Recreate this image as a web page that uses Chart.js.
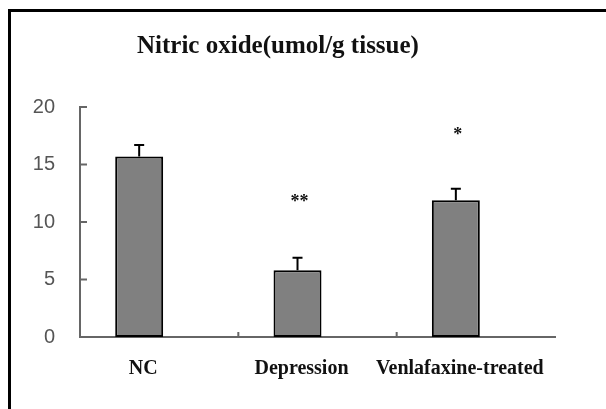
<!DOCTYPE html>
<html lang="en">
<head>
    <meta charset="UTF-8">
    <title>Nitric oxide</title>
    <script src="https://cdn.jsdelivr.net/npm/chart.js"></script>
    <style>
        body {
            margin: 0;
            background-color: #fff;
        }

        #wrap {
            position: relative;
            width: 606px;
            height: 409px;
            overflow: hidden;
        }

        #frame {
            position: absolute;
            left: 8px;
            top: 9px;
            width: 620px;
            height: 420px;
            border-left: 3px solid #000;
            border-top: 3px solid #000;
            pointer-events: none;
        }
    </style>
</head>
<body>

    <div id="wrap">
        <canvas id="myChart" width="606" height="409"></canvas>
        <div id="frame"></div>
    </div>

    <script>
        const titleText = 'Nitric oxide(umol/g tissue)';
        const groups = ['NC', 'Depression', 'Venlafaxine-treated'];
        const noValues = [15.7, 5.8, 11.9];
        const noErrors = [1.0, 1.1, 1.0];
        const marks = ['', '**', '*'];
        const markLevels = [null, 12.0, 17.8];
        const yTicks = [0, 5, 10, 15, 20];

        // errors, stars, inner ticks and title
        const extras = {
            id: 'extras',
            afterDatasetsDraw(chart) {
                const ctx = chart.ctx;
                const x = chart.scales.x;
                const y = chart.scales.y;
                const bars = chart.getDatasetMeta(0).data;

                ctx.save();
                ctx.strokeStyle = '#000';
                ctx.lineWidth = 2;
                bars.forEach((bar, i) => {
                    const top = y.getPixelForValue(noValues[i] + noErrors[i]);
                    ctx.beginPath();
                    ctx.moveTo(bar.x, bar.y);
                    ctx.lineTo(bar.x, top);
                    ctx.moveTo(bar.x - 5, top);
                    ctx.lineTo(bar.x + 5, top);
                    ctx.stroke();

                    if (marks[i]) {
                        ctx.fillStyle = '#111';
                        ctx.font = 'bold 18px "Liberation Serif"';
                        ctx.textAlign = 'center';
                        ctx.textBaseline = 'middle';
                        ctx.fillText(marks[i], bar.x + 2, y.getPixelForValue(markLevels[i]) + 3);
                    }
                });

                // ticks pointing inwards
                ctx.strokeStyle = '#666';
                ctx.beginPath();
                yTicks.forEach(v => {
                    const py = y.getPixelForValue(v);
                    ctx.moveTo(x.left, py);
                    ctx.lineTo(x.left + 7, py);
                });
                for (let i = 1; i < groups.length; i++) {
                    const px = (x.getPixelForValue(i - 1) + x.getPixelForValue(i)) / 2;
                    ctx.moveTo(px, y.bottom);
                    ctx.lineTo(px, y.bottom - 5);
                }
                ctx.stroke();

                ctx.fillStyle = '#111';
                ctx.font = 'bold 25px "Liberation Serif"';
                ctx.textAlign = 'left';
                ctx.textBaseline = 'alphabetic';
                ctx.fillText(titleText, 137, 53);
                ctx.restore();
            }
        };

        const ctx = document.getElementById('myChart').getContext('2d');
        const chart = new Chart(ctx, {
            type: 'bar',
            data: {
                labels: groups,
                datasets: [{
                    data: noValues,
                    backgroundColor: '#808080',
                    borderColor: '#000',
                    borderWidth: 2,
                    borderSkipped: false
                }, {
                    data: groups.map(() => null)
                }]
            },
            plugins: [extras],
            options: {
                responsive: false,
                animation: false,
                categoryPercentage: 0.505,
                barPercentage: 1.2,
                layout: {
                    padding: { top: 107, right: 51 }
                },
                plugins: {
                    legend: { display: false },
                    tooltip: { enabled: false }
                },
                scales: {
                    x: {
                        grid: { display: false },
                        border: { color: '#666', width: 2 },
                        ticks: {
                            color: '#111',
                            font: { family: 'Liberation Serif', size: 20, weight: 'bold' },
                            padding: 12,
                            labelOffset: -16,
                            maxRotation: 0,
                            minRotation: 0,
                            autoSkip: false
                        },
                        afterFit: function (scale) {
                            scale.height = 72;
                        }
                    },
                    y: {
                        min: 0,
                        max: 20,
                        grid: { display: false },
                        border: { color: '#666', width: 2 },
                        ticks: {
                            stepSize: 5,
                            color: '#555',
                            font: { family: 'Liberation Sans', size: 20 },
                            padding: 17
                        },
                        afterFit: function (scale) {
                            scale.width = 80;
                        }
                    }
                }
            }
        });
    </script>
</body>
</html>
